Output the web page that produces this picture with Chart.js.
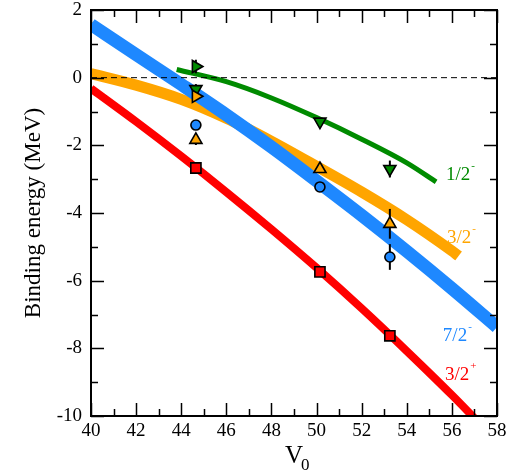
<!DOCTYPE html>
<html>
<head>
<meta charset="utf-8">
<script src="https://cdn.jsdelivr.net/npm/chart.js@4/dist/chart.umd.min.js"></script>
<style>
  html, body { margin: 0; padding: 0; background: #fff; }
</style>
</head>
<body>
<canvas id="levels" width="508" height="472"></canvas>
<script>
// theory curves (binding energy vs V0)
var blueX = [40, 42, 44, 46, 48, 50, 52, 54, 56, 58];
var blueY = [1.57, 0.68, -0.2, -1.1, -2.05, -3.05, -4.07, -5.13, -6.23, -7.37];
var orangeX = [40, 42, 44, 46, 48, 50, 52, 54, 56, 56.3];
var orangeY = [0.12, -0.22, -0.64, -1.2, -1.88, -2.62, -3.38, -4.2, -5.12, -5.27];
var greenX = [43.8, 46, 48, 50, 52, 54, 55.3];
var greenY = [0.24, -0.12, -0.6, -1.18, -1.82, -2.52, -3.08];
var redX = [40, 42, 44, 46, 48, 50, 52, 54, 56, 57.2];
var redY = [-0.32, -1.3, -2.32, -3.38, -4.48, -5.62, -6.82, -8.08, -9.38, -10.2];

// calculated points with error bars
var expX = [44.65, 50.15, 53.25];
var half1Y = [-0.34, -1.3, -2.7];
var half1Err = [0.15, 0, 0.25];
var half3Y = [-1.84, -2.7, -4.32];
var half3Err = [0.15, 0, 0.44];
var sevenY = [-1.4, -3.23, -5.3];
var sevenErr = [0, 0, 0.38];
var plusY = [-2.67, -5.74, -7.63];
var plusErr = [0, 0, 0];
var extraX = [44.65];
var extraGreenY = [0.33];
var extraGreenErr = [0.2];
var extraOrangeY = [-0.55];
var extraOrangeErr = [0];

var xTicks = [40, 42, 44, 46, 48, 50, 52, 54, 56, 58];
var yTicks = [2, 0, -2, -4, -6, -8, -10];

var GREEN = "#008b00", ORANGE = "#ffa500", BLUE = "#1e88ff", RED = "#ff0000";

function pts(xs, ys) {
  return xs.map(function (x, i) { return { x: x, y: ys[i] }; });
}

function curve(xs, ys, color, width, order) {
  return {
    type: "line",
    data: pts(xs, ys),
    borderColor: color,
    borderWidth: width,
    pointRadius: 0,
    cubicInterpolationMode: "monotone",
    clip: 0,
    order: order
  };
}

function marker(xs, ys, errs, color, style, rot, r) {
  return {
    type: "scatter",
    data: pts(xs, ys),
    errors: errs,
    backgroundColor: color,
    borderColor: "#000",
    borderWidth: 1.6,
    pointStyle: style,
    pointRotation: rot,
    pointRadius: r,
    clip: false,
    order: 0
  };
}

// drop the label overflow padding so the plot box sits where we want it
function noPad(s) {
  s.paddingTop = 0; s.paddingBottom = 0;
  s.paddingLeft = 0; s.paddingRight = 0;
}

// error bars, inward ticks, frame, labels
var decor = {
  id: "decor",
  beforeDatasetDraw: function (chart, args) {
    var ds = chart.data.datasets[args.index];
    if (!ds.errors) return;
    var ctx = chart.ctx, xs = chart.scales.x, ys = chart.scales.y;
    ctx.save();
    ctx.strokeStyle = "#000";
    ctx.lineWidth = 2;
    ds.data.forEach(function (p, i) {
      var e = ds.errors[i];
      if (!e) return;
      var px = xs.getPixelForValue(p.x);
      ctx.beginPath();
      ctx.moveTo(px, ys.getPixelForValue(p.y - e));
      ctx.lineTo(px, ys.getPixelForValue(p.y + e));
      ctx.stroke();
    });
    ctx.restore();
  },
  afterDraw: function (chart) {
    var ctx = chart.ctx, a = chart.chartArea;
    var xs = chart.scales.x, ys = chart.scales.y;
    ctx.save();
    ctx.strokeStyle = "#000";
    ctx.lineWidth = 1.5;
    var v, px, len;
    for (v = 40; v <= 58; v++) {
      px = Math.round(xs.getPixelForValue(v)) + 0.5;
      len = (v % 2 === 0) ? 13 : 7;
      ctx.beginPath();
      ctx.moveTo(px, a.bottom); ctx.lineTo(px, a.bottom - len);
      ctx.moveTo(px, a.top); ctx.lineTo(px, a.top + len);
      ctx.stroke();
    }
    for (v = -10; v <= 2; v++) {
      px = Math.round(ys.getPixelForValue(v)) + 0.5;
      len = (v % 2 === 0) ? 13 : 7;
      ctx.beginPath();
      ctx.moveTo(a.left, px); ctx.lineTo(a.left + len, px);
      ctx.moveTo(a.right, px); ctx.lineTo(a.right - len, px);
      ctx.stroke();
    }
    ctx.lineWidth = 2;
    ctx.strokeRect(a.left, a.top, a.right - a.left, a.bottom - a.top);

    // state labels
    function label(txt, sup, x, y, color) {
      var px = xs.getPixelForValue(x), py = ys.getPixelForValue(y);
      ctx.fillStyle = color;
      ctx.textAlign = "left";
      ctx.textBaseline = "alphabetic";
      ctx.font = "19px 'Liberation Serif'";
      ctx.fillText(txt, px, py);
      var w = ctx.measureText(txt).width;
      ctx.font = "11px 'Liberation Serif'";
      ctx.fillText(sup, px + w + 1, py - 11);
    }
    label("1/2", "-", 55.74, -3.02, GREEN);
    label("3/2", "-", 55.78, -4.89, ORANGE);
    label("7/2", "-", 55.6, -7.78, BLUE);
    label("3/2", "+", 55.69, -8.94, RED);

    // x axis title V0
    var cx = xs.getPixelForValue(49);
    ctx.fillStyle = "#000";
    ctx.font = "25px 'Liberation Serif'";
    ctx.textAlign = "left";
    ctx.fillText("V", cx - 9, 463);
    ctx.font = "17px 'Liberation Serif'";
    ctx.fillText("0", cx + 7, 470);
    ctx.restore();
  }
};

var ctx = document.getElementById("levels");

new Chart(ctx, {
  data: {
    datasets: [
      curve(orangeX, orangeY, ORANGE, 11, 5),
      curve(blueX, blueY, BLUE, 13, 4),
      curve(redX, redY, RED, 8, 3),
      curve(greenX, greenY, GREEN, 5, 2),
      {
        type: "line",
        data: [{ x: 40, y: 0 }, { x: 58, y: 0 }],
        borderColor: "#000",
        borderWidth: 1,
        borderDash: [6, 4],
        pointRadius: 0,
        order: 1
      },
      marker(expX, plusY, plusErr, RED, "rect", 0, 7.2),
      marker(expX, half3Y, half3Err, ORANGE, "triangle", 0, 7),
      marker(expX, sevenY, sevenErr, BLUE, "circle", 0, 5),
      marker(extraX, extraOrangeY, extraOrangeErr, ORANGE, "triangle", 90, 7),
      marker(expX, half1Y, half1Err, GREEN, "triangle", 180, 7),
      marker(extraX, extraGreenY, extraGreenErr, GREEN, "triangle", 90, 7)
    ]
  },
  options: {
    responsive: false,
    animation: false,
    events: [],
    layout: { padding: { top: 10, right: 11, left: 0, bottom: 0 } },
    plugins: {
      legend: { display: false },
      tooltip: { enabled: false }
    },
    scales: {
      x: {
        type: "linear",
        min: 40,
        max: 58,
        afterFit: function (s) { s.height = 56; noPad(s); },
        afterBuildTicks: function (s) { s.ticks = xTicks.map(function (v) { return { value: v }; }); },
        grid: { display: false, drawTicks: false },
        border: { display: false },
        ticks: {
          color: "#000",
          padding: 4,
          maxRotation: 0,
          font: { family: "'Liberation Serif'", size: 19 }
        }
      },
      y: {
        type: "linear",
        min: -10,
        max: 2,
        afterFit: function (s) { s.width = 91; noPad(s); },
        afterBuildTicks: function (s) { s.ticks = yTicks.map(function (v) { return { value: v }; }); },
        grid: { display: false, drawTicks: false },
        border: { display: false },
        title: {
          display: true,
          text: "Binding energy (MeV)",
          color: "#000",
          padding: { top: 20, bottom: 0 },
          font: { family: "'Liberation Serif'", size: 23 }
        },
        ticks: {
          color: "#000",
          padding: 9,
          font: { family: "'Liberation Serif'", size: 19 }
        }
      }
    }
  },
  plugins: [decor]
});
</script>
</body>
</html>
